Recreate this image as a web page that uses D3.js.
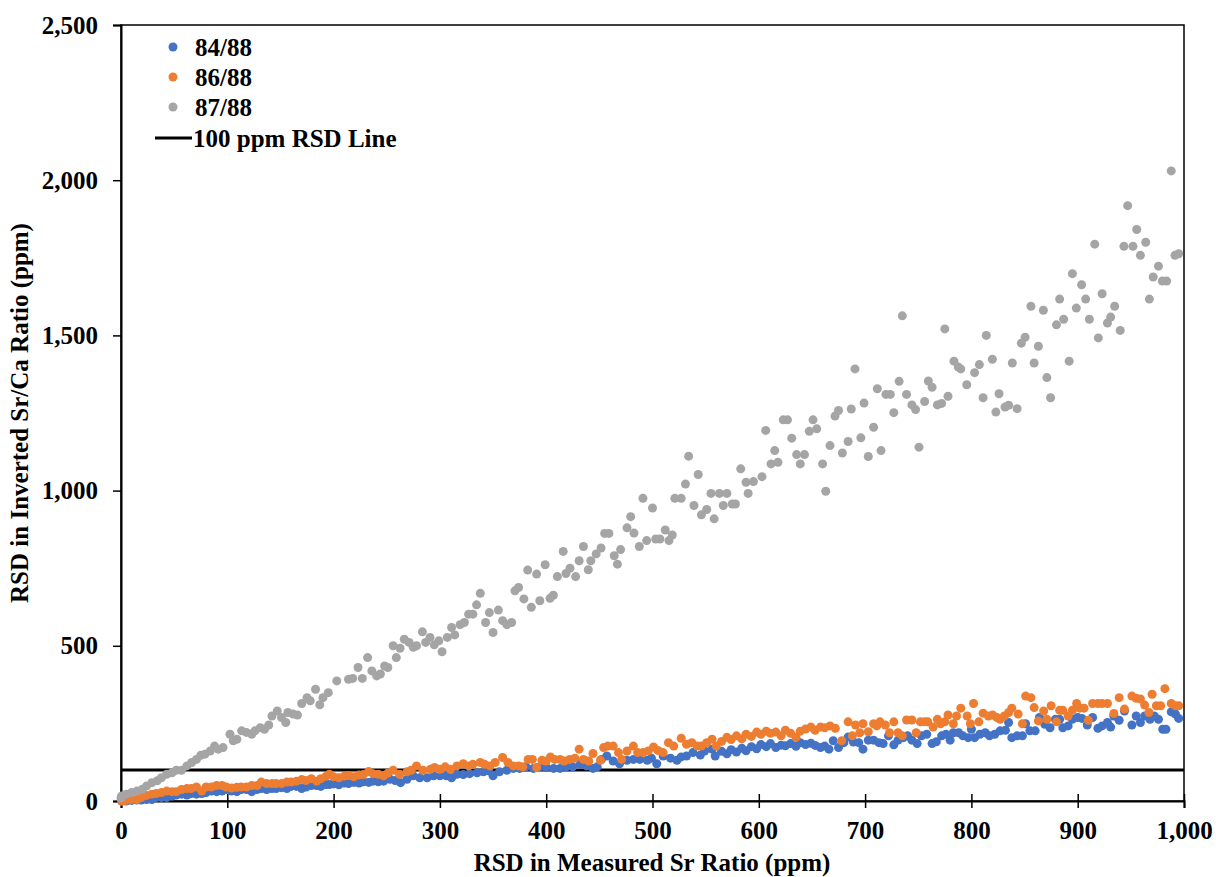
<!DOCTYPE html>
<html><head><meta charset="utf-8">
<script src="https://cdn.jsdelivr.net/npm/d3@7"></script>
<style>body{margin:0;background:#fff}svg{display:block}text{font-family:"Liberation Serif","Times New Roman",serif;font-weight:bold}</style>
</head><body><svg id="c" width="1216" height="877"></svg>
<script>
const xTicks=[0,100,200,300,400,500,600,700,800,900,1000];
const yTicks=[0,500,1000,1500,2000,2500];
const seriesNames=["84/88","86/88","87/88"];
const colors=["#4472C4","#ED7D31","#A5A5A5"];
const refLineValue=100;
const refLineLabel="100 ppm RSD Line";
const xTitle="RSD in Measured Sr Ratio (ppm)";
const yTitle="RSD in Inverted Sr/Ca Ratio (ppm)";

const s84=[[0.6,0],[5,0],[10,2],[15,3],[19,3],[24,5],[29,5],[33,11],[38,11],[43,11],[48,16],[52,19],[57,22],[62,19],[66,24],[71,22],[76,24],[80,27],[85,32],[90,30],[95,32],[99,37],[104,32],[109,30],[113,37],[118,37],[123,30],[128,37],[132,40],[137,37],[142,40],[146,40],[151,43],[156,40],[160,47],[165,47],[170,40],[174,45],[179,50],[184,50],[188,47],[193,53],[196,53],
[200,55],[205,52],[210,58],[214,56],[219,60],[224,58],[228,62],[233,60],[237,64],[242,62],
[247,64],[253,70],[258,66],[263,59],[269,70],[275,81],[281,75],[288,75],[294,81],[300,81],[306,81],[311,75],[316,86],[322,85],[328,88],[335,91],[341,94],[346,97],[350,81],[356,94],[363,99],[369,105],[375,105],[381,110],[388,105],[394,110],[400,108],[407,105],[413,105],[419,110],[425,110],[432,118],[438,113],[444,105],[448,110],[452,134],[457,145],[463,129],[469,120],[476,131],[482,134],[488,134],[495,131],[499,138],[504,120],[510,145],[517,138],[523,131],[527,142],[532,145],[538,156],[545,148],[549,161],[556,167],[559,145],
[565,160],[570,152],[574,165],[579,158],[584,170],[588,162],[593,175],[598,168],[602,182],[607,175],[611,185],[616,172],[621,180],[625,178],[630,185],[635,176],[639,188],[644,182],[649,186],[653,179],
[658,172],[662,177],[666,167],[670,194],[675,172],[680,188],[684,206],[689,190],[694,188],[698,167],[703,196],[708,196],[713,188],[717,185],[722,210],[727,181],[731,196],[736,204],[740,210],[744,196],[749,185],[753,210],[758,215],[763,185],[767,191],[772,210],[776,215],[780,196],[783,220],[788,220],[792,210],[797,204],[800,231],[803,204],[808,215],[813,220],[817,210],[822,215],[827,226],[832,228],[835,253],[838,204],[843,210],[848,210],[851,249],[855,226],[860,226],[864,269],[869,247],[874,236],[879,263],[883,263],[886,236],[891,242],[895,263],[900,269],[904,266],[909,245],[914,269],[919,234],[923,242],[928,253],[931,238],[934,274],[939,260],[944,290],[951,245],[955,274],[959,253],[963,274],[968,263],[972,274],[976,263],[980,231],[983,231],[988,287],[992,280],[995,266]];

const s86=[[0.6,0],[5,2],[10,5],[15,5],[19,11],[24,18],[29,22],[33,24],[38,27],[43,32],[48,30],[52,30],[57,37],[62,40],[66,40],[71,45],[76,32],[80,45],[85,45],[90,50],[95,50],[99,45],[104,42],[109,44],[113,45],[118,45],[123,50],[128,50],[132,61],[137,56],[142,56],[146,56],[151,56],[156,61],[160,61],[165,64],[170,69],[174,66],[179,72],[184,64],[188,72],[193,80],[196,86],
[200,78],[205,75],[210,80],[214,82],[219,78],[224,84],[228,85],[233,95],[237,88],[242,86],
[247,81],[251,90],[256,99],[262,86],[269,94],[273,99],[278,113],[284,99],[291,102],[295,108],[300,102],[305,110],[310,102],[316,113],[322,120],[327,113],[331,118],[338,124],[342,118],[347,113],[352,124],[359,140],[364,124],[369,113],[374,113],[378,110],[383,134],[387,134],[391,108],[396,131],[400,129],[404,142],[408,134],[413,134],[417,129],[422,134],[427,138],[431,167],[435,134],[440,129],[444,153],[451,131],[454,172],[458,177],[463,177],[468,156],[471,134],[476,161],[482,177],[486,156],[491,156],[496,161],[501,174],[505,163],[510,156],[515,188],[520,177],[527,202],[532,183],[537,188],[542,177],[546,177],[551,188],[556,199],[560,177],
[565,192],[570,205],[574,198],[579,210],[584,200],[588,215],[593,208],[598,222],[602,215],[607,225],[611,218],[616,222],[621,210],[625,228],[630,218],[635,205],[639,225],[644,232],[649,238],[653,228],
[658,238],[662,236],[667,242],[672,234],[678,194],[684,255],[688,210],[691,245],[695,220],[698,249],[703,223],[708,249],[711,242],[714,255],[719,245],[723,220],[727,255],[731,220],[735,210],[739,261],[744,261],[748,220],[752,255],[756,255],[759,255],[764,238],[768,263],[771,249],[775,255],[778,277],[783,249],[786,274],[790,299],[796,274],[799,249],[802,314],[807,255],[811,283],[816,274],[820,277],[824,269],[827,263],[831,274],[835,285],[838,299],[844,280],[848,249],[851,338],[856,333],[859,301],[863,258],[868,290],[871,263],[875,307],[880,255],[883,292],[886,292],[891,274],[895,292],[899,314],[902,299],[906,299],[910,260],[914,314],[919,314],[923,314],[928,314],[934,282],[939,333],[944,296],[951,338],[955,331],[959,329],[963,309],[967,285],[970,344],[974,307],[978,307],[982,362],[988,314],[992,307],[995,307]];

const s87=[[0,10],[0.6,16],[5,22],[10,27],[15,32],[20,38],[24,48],[29,59],[34,65],[38,75],[43,86],[48,91],[52,99],[57,99],[62,113],[66.5,124],[71,134],[75,147],[79,151],[84,161],[88,177],[91.5,167],[96,172],[102.5,215],[105.6,194],[109,199],[113.5,226],[118,221],[123,215],[126,226],[131,236],[135,231],[139,245],[142,274],[147,290],[151,269],[155,253],[157,285],[162,280],[166,277],[170,314],[175,333],[178,323],[183,360],[187,310],[190,333],[195,349],
[203,387],[214,392],[218,395],[223,430],[227,395],[232,462],[236,419],[240.5,403],[244,409],[248,435],[251,430],[256,500],[259,462],[262.5,492],[266.5,521],[271,511],[275,495],[278,500],[283.5,545],[286.6,511],[290.7,527],[294.7,503],[299,516],[302,481],[307,527],[311,559],[314,535],[319,568],[323,575],[327,602],[331,602],[334.5,632],[338,669],[343,575],[346.5,607],[350,543],[355,615],[359,581],[363,568],[367.5,575],[370.6,677],[374,688],[379,651],[382.6,744],[386,624],[391,731],[394,645],
[399,761],[403.6,653],[406.7,663],[410.5,723],[416,804],[418.6,733],[422.4,750],[427.7,723],[431,774],[435,820],[439.6,745],[442,774],[447,796],[451.6,815],[455,862],[459,862],[464,790],[467,763],[470,810],[476,880],[479.5,916],[482.6,863],[487.6,820],[491,975],[494.5,839],[500,944],[503,844],[507,844],[512,873],[515.5,839],[518.6,857],[521,975],[527,975],[531,1021],[534,1111],[539,952],[543,1052],[546,922],[551,939],[555,991],[558,909],[563,991],[566.6,952],[570,991],[575,957],[578,957],[583,1070],[588,1027],[590,991],
[595,1029],[603,1045],[606.5,1194],[611.5,1086],[615,1129],[618,1091],[623,1228],[627,1228],[631,1169],[635.6,1116],[639,1086],[643,1116],[647.5,1191],[651,1228],[654.5,1199],[660,1086],[663,998],[667,1145],[671.7,1240],[675,1258],[678.6,1121],[684,1158],[687,1263],[690.5,1392],[696,1170],[699,1282],[703,1110],[708,1204],[711.5,1328],[715,1129],[719.6,1310],[723.7,1310],[727,1251],[732,1352],[735,1563],[739,1310],[744,1276],[747.5,1261],[750.7,1140],[756,1287],[759.5,1353],[763,1333],[768,1276],[772,1281],[775,1521],[778,1304],[783.6,1417],[787.7,1398],
[790,1392],[795.6,1341],[803,1380],[807.5,1406],[811,1299],[814,1500],[819.7,1423],[823,1253],[826,1312],[831.6,1269],[835,1275],[838.5,1411],[843,1264],[847,1475],[850.5,1494],[856,1594],[859,1411],[863,1465],[867.7,1581],[871,1364],[874.5,1299],[880,1534],[883,1617],[886.8,1552],[892,1417],[895,1699],[898.7,1588],[903.7,1663],[907.5,1617],[911,1552],[916,1794],[919.4,1492],[923,1634],[928,1540],[931,1559],[934.8,1594],[940,1516],[943.5,1787],[947,1918],[952,1787],[955.5,1841],[959,1758],[964,1800],[967.4,1617],[971,1688],[976,1723],[979.6,1675],[983.7,1675],[988,2030],[991.5,1758],[995,1763]];

const allSeries=[s84,s86,s87];

const svg=d3.select("#c");
const L=121,R=1184,T=25,B=801;
const FS=25;
const x=d3.scaleLinear().domain([0,1000]).range([L,R]);
const y=d3.scaleLinear().domain([0,2500]).range([B,T]);

// plot frame
svg.append("rect").attr("x",L).attr("y",T).attr("width",R-L).attr("height",B-T)
  .attr("fill","none").attr("stroke","#000").attr("stroke-width",1.5);

// y axis
const gy=svg.append("g").attr("transform",`translate(${L},0)`)
  .call(d3.axisLeft(y).tickValues(yTicks).tickFormat(d3.format(",")).tickSize(8).tickPadding(15));
gy.select(".domain").attr("stroke","#000").attr("stroke-width",2);
gy.selectAll(".tick line").attr("stroke","#000").attr("stroke-width",1.5);
gy.selectAll(".tick text").attr("font-size",FS).attr("fill","#000")
  .style("font-family","'Liberation Serif',serif").style("font-weight","bold");

// x axis
const gx=svg.append("g").attr("transform",`translate(0,${B})`)
  .call(d3.axisBottom(x).tickValues(xTicks).tickFormat(d3.format(",")).tickSize(7).tickPadding(13));
gx.select(".domain").attr("stroke","#000").attr("stroke-width",2);
gx.selectAll(".tick line").attr("y1",-7).attr("y2",7).attr("stroke","#000").attr("stroke-width",1.5);
gx.selectAll(".tick text").attr("font-size",FS).attr("fill","#000")
  .style("font-family","'Liberation Serif',serif").style("font-weight","bold");

// reference line
svg.append("line").attr("x1",x(0)).attr("x2",x(1000)).attr("y1",y(refLineValue)).attr("y2",y(refLineValue))
  .attr("stroke","#000").attr("stroke-width",3);

// points
allSeries.forEach((s,i)=>{
  svg.append("g").selectAll("circle").data(s).join("circle")
    .attr("cx",d=>x(d[0])).attr("cy",d=>y(d[1])).attr("r",4.5).attr("fill",colors[i]);
});

// titles
svg.append("text").attr("x",652).attr("y",871).attr("text-anchor","middle")
  .attr("font-size",FS).text(xTitle);
svg.append("text").attr("transform",`translate(28,413) rotate(-90)`).attr("text-anchor","middle")
  .attr("font-size",FS).text(yTitle);

// legend
const lg=svg.append("g");
seriesNames.forEach((n,i)=>{
  const cy=47+i*30;
  lg.append("circle").attr("cx",173).attr("cy",cy).attr("r",4.5).attr("fill",colors[i]);
  lg.append("text").attr("x",195).attr("y",cy+8.5).attr("font-size",FS).text(n);
});
lg.append("line").attr("x1",155).attr("x2",192).attr("y1",138).attr("y2",138).attr("stroke","#000").attr("stroke-width",3);
lg.append("text").attr("x",193).attr("y",146.5).attr("font-size",FS).text(refLineLabel);
</script></body></html>
